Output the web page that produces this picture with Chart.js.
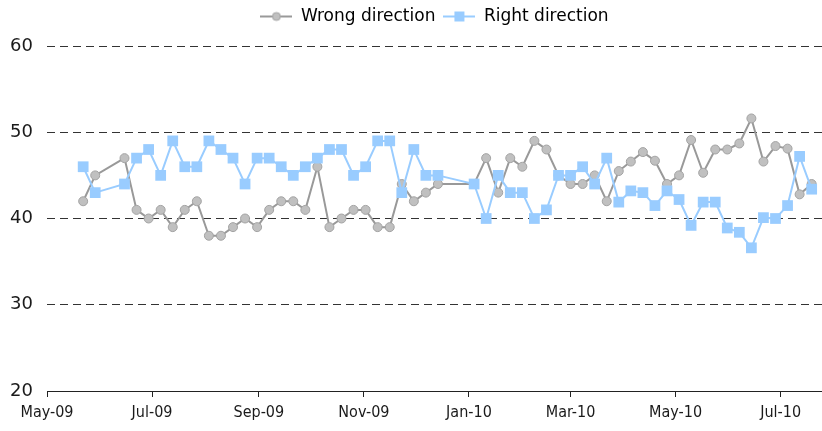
<!DOCTYPE html>
<html>
<head>
<meta charset="utf-8">
<script src="https://cdn.jsdelivr.net/npm/chart.js@4"></script>
<style>
  html, body { margin: 0; padding: 0; background: #fff; }
</style>
</head>
<body>
<canvas id="myChart" width="822" height="431"></canvas>
<script>
// weekly poll dates
const weeks = [
  '2009-05-22', '2009-05-29', '2009-06-15', '2009-06-22', '2009-06-29',
  '2009-07-06', '2009-07-13', '2009-07-20', '2009-07-27', '2009-08-03',
  '2009-08-10', '2009-08-17', '2009-08-24', '2009-08-31', '2009-09-07',
  '2009-09-14', '2009-09-21', '2009-09-28', '2009-10-05', '2009-10-12',
  '2009-10-19', '2009-10-26', '2009-11-02', '2009-11-09', '2009-11-16',
  '2009-11-23', '2009-11-30', '2009-12-07', '2009-12-14',
  '2010-01-04', '2010-01-11', '2010-01-18', '2010-01-25', '2010-02-01',
  '2010-02-08', '2010-02-15', '2010-02-22', '2010-03-01', '2010-03-08',
  '2010-03-15', '2010-03-22', '2010-03-29', '2010-04-05', '2010-04-12',
  '2010-04-19', '2010-04-26', '2010-05-03', '2010-05-10', '2010-05-17',
  '2010-05-24', '2010-05-31', '2010-06-07', '2010-06-14', '2010-06-21',
  '2010-06-28', '2010-07-05', '2010-07-12', '2010-07-19'
];

const wrongDirection = [
  42, 45, 47, 41, 40, 41, 39, 41, 42, 38,
  38, 39, 40, 39, 41, 42, 42, 41, 46, 39,
  40, 41, 41, 39, 39, 44, 42, 43, 44,
  44, 47, 43, 47, 46, 49, 48, 45, 44, 44,
  45, 42, 45.5, 46.6, 47.7, 46.7, 44, 45, 49.1, 45.3,
  48, 48, 48.7, 51.6, 46.6, 48.4, 48.1, 42.8, 44
];

const rightDirection = [
  46, 43, 44, 47, 48, 45, 49, 46, 46, 49,
  48, 47, 44, 47, 47, 46, 45, 46, 47, 48,
  48, 45, 46, 49, 49, 43, 48, 45, 45,
  44, 40, 45, 43, 43, 40, 41, 45, 45, 46,
  44, 47, 41.9, 43.2, 43, 41.5, 43.2, 42.2, 39.2, 41.9,
  41.9, 38.9, 38.4, 36.6, 40.1, 40, 41.5, 47.2, 43.4
];

const yTicks = [20, 30, 40, 50, 60];
const xTickMonths = ['2009-05-01', '2009-07-01', '2009-09-01', '2009-11-01',
                     '2010-01-01', '2010-03-01', '2010-05-01', '2010-07-01'];
const xStart = '2009-05-01';
const xEnd = '2010-07-25';
const monthNames = ['Jan', 'Feb', 'Mar', 'Apr', 'May', 'Jun',
                    'Jul', 'Aug', 'Sep', 'Oct', 'Nov', 'Dec'];

function toTime(s) {
  return Date.parse(s + 'T00:00:00Z');
}

function monthLabel(t) {
  const d = new Date(t);
  return monthNames[d.getUTCMonth()] + '-' + String(d.getUTCFullYear()).slice(2);
}

// little line+marker picture for the legend
function legendIcon(lineColor, fill, stroke, shape) {
  const c = document.createElement('canvas');
  c.width = 32;
  c.height = 12;
  const g = c.getContext('2d');
  g.strokeStyle = lineColor;
  g.lineWidth = 2;
  g.beginPath();
  g.moveTo(0, 6);
  g.lineTo(32, 6);
  g.stroke();
  g.fillStyle = fill;
  if (shape === 'circle') {
    g.beginPath();
    g.arc(16, 6, 4, 0, Math.PI * 2);
    g.fill();
    g.strokeStyle = stroke;
    g.lineWidth = 1;
    g.stroke();
  } else {
    g.fillRect(11, 1, 10, 10);
  }
  return c;
}

const grayLine = '#999999';
const grayPoint = '#c0c0c0';
const grayBorder = '#a3a3a3';
const blue = '#99ccff';

const legendSize = {
  id: 'legendSize',
  beforeInit(chart) {
    const fit = chart.legend.fit;
    chart.legend.fit = function () {
      fit.call(this);
      this.height = 46;
    };
  }
};

const ctx = document.getElementById('myChart').getContext('2d');
new Chart(ctx, {
  type: 'line',
  data: {
    datasets: [
      {
        label: 'Wrong direction',
        data: weeks.map((w, i) => ({ x: toTime(w), y: wrongDirection[i] })),
        borderColor: grayLine,
        borderWidth: 2,
        pointStyle: 'circle',
        pointRadius: 4.5,
        pointBackgroundColor: grayPoint,
        pointBorderColor: grayBorder,
        pointBorderWidth: 1,
        tension: 0,
        order: 1
      },
      {
        label: 'Right direction',
        data: weeks.map((w, i) => ({ x: toTime(w), y: rightDirection[i] })),
        borderColor: blue,
        borderWidth: 2,
        pointStyle: 'rect',
        pointRadius: 7.6,
        pointBackgroundColor: blue,
        pointBorderColor: blue,
        pointBorderWidth: 0,
        tension: 0,
        order: 0
      }
    ]
  },
  options: {
    responsive: false,
    animation: false,
    devicePixelRatio: 1,
    layout: { padding: 0, autoPadding: false },
    plugins: {
      tooltip: { enabled: false },
      legend: {
        position: 'top',
        fullSize: false,
        labels: {
          color: '#1a1a1a',
          font: { family: 'DejaVu Sans', size: 17 },
          usePointStyle: true,
          pointStyleWidth: 32,
          padding: 8,
          generateLabels: () => [
            { text: 'Wrong direction', pointStyle: legendIcon(grayLine, grayPoint, grayBorder, 'circle'),
              fillStyle: grayPoint, strokeStyle: grayLine, lineWidth: 0, hidden: false, datasetIndex: 0 },
            { text: 'Right direction', pointStyle: legendIcon(blue, blue, blue, 'rect'),
              fillStyle: blue, strokeStyle: blue, lineWidth: 0, hidden: false, datasetIndex: 1 }
          ]
        }
      }
    },
    scales: {
      x: {
        type: 'linear',
        min: toTime(xStart),
        max: toTime(xEnd),
        afterBuildTicks: s => { s.ticks = xTickMonths.map(m => ({ value: toTime(m) })); },
        afterFit: s => {
          s.height = 40;
          s.paddingLeft = 0;
          s.paddingRight = 0;
        },
        ticks: {
          callback: v => monthLabel(v),
          color: '#1a1a1a',
          font: { family: 'DejaVu Sans Condensed, DejaVu Sans', size: 16 },
          padding: 6,
          maxRotation: 0,
          autoSkip: false
        },
        grid: { display: true, drawOnChartArea: false, drawTicks: true, tickLength: 6, color: '#222' },
        border: { display: true, color: '#222', width: 1 }
      },
      y: {
        min: 20,
        max: 60,
        afterBuildTicks: s => { s.ticks = yTicks.map(v => ({ value: v })); },
        afterFit: s => { s.width = 47; },
        ticks: {
          color: '#1a1a1a',
          font: { family: 'DejaVu Sans', size: 18 },
          padding: 14
        },
        grid: {
          color: c => (c.tick && c.tick.value === 20) ? 'rgba(0,0,0,0)' : '#333',
          drawTicks: false,
          lineWidth: 1
        },
        border: { display: false, dash: [8, 5] }
      }
    }
  },
  plugins: [legendSize]
});
</script>
</body>
</html>
